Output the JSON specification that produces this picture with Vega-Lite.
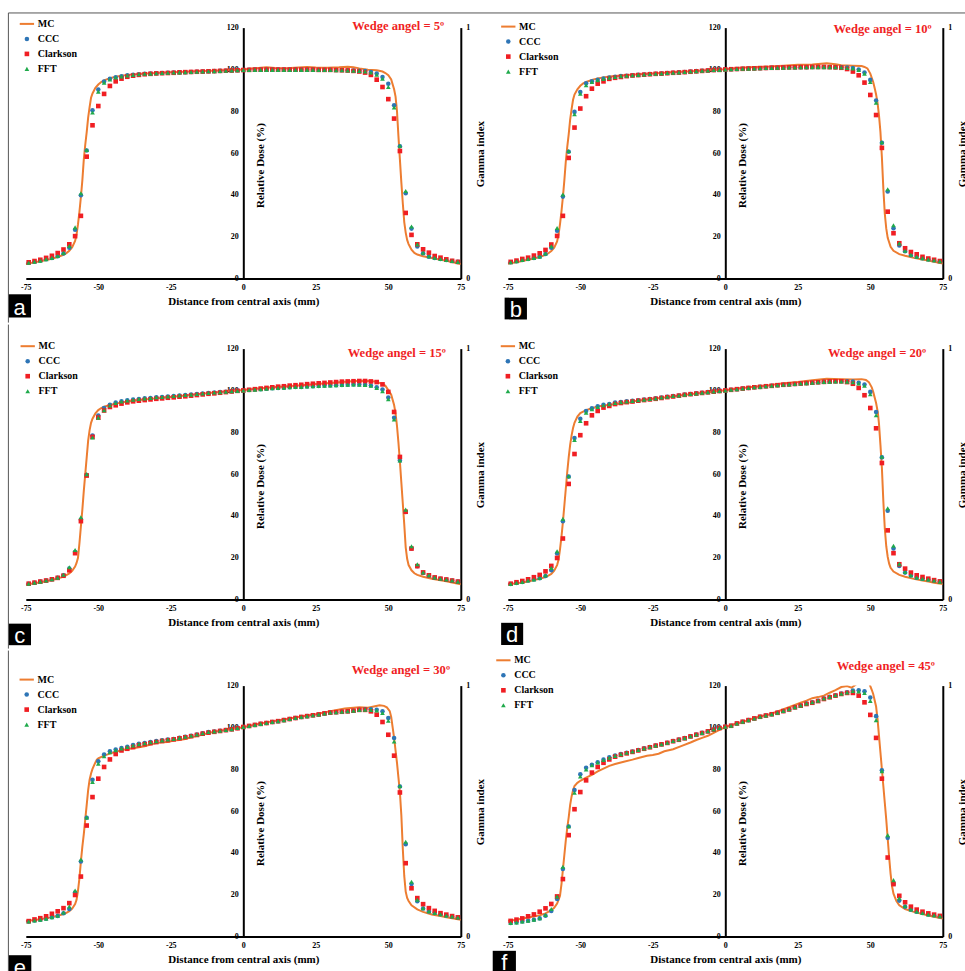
{
"$schema": "https://vega.github.io/schema/vega-lite/v6.json",
"background": "white",
"autosize": {"type": "pad"},
"padding": {"left": 7.8, "top": 11.6, "right": 0, "bottom": 0},
"datasets": {
"pts": [
{"p":"a","x":-74,"CCC":7.6,"Clarkson":7.8,"FFT":7.6},{"p":"a","x":-72,"CCC":8.1,"Clarkson":8.4,"FFT":8.1},{"p":"a","x":-70,"CCC":8.6,"Clarkson":9.0,"FFT":8.6},{"p":"a","x":-68,"CCC":9.3,"Clarkson":9.9,"FFT":9.3},{"p":"a","x":-66,"CCC":9.9,"Clarkson":10.9,"FFT":9.9},{"p":"a","x":-64,"CCC":10.7,"Clarkson":12.2,"FFT":10.8},{"p":"a","x":-62,"CCC":12.0,"Clarkson":13.9,"FFT":12.3},{"p":"a","x":-60,"CCC":14.8,"Clarkson":16.4,"FFT":15.6},{"p":"a","x":-58,"CCC":23.4,"Clarkson":20.3,"FFT":24.5},{"p":"a","x":-56,"CCC":39.8,"Clarkson":30.0,"FFT":40.8},{"p":"a","x":-54,"CCC":61.2,"Clarkson":58.3,"FFT":61.5},{"p":"a","x":-52,"CCC":80.5,"Clarkson":73.3,"FFT":79.4},{"p":"a","x":-50,"CCC":90.4,"Clarkson":82.5,"FFT":89.4},{"p":"a","x":-48,"CCC":94.2,"Clarkson":88.3,"FFT":93.7},{"p":"a","x":-46,"CCC":95.5,"Clarkson":92.1,"FFT":95.2},{"p":"a","x":-44,"CCC":96.3,"Clarkson":94.3,"FFT":96.1},{"p":"a","x":-42,"CCC":96.7,"Clarkson":95.6,"FFT":96.6},{"p":"a","x":-40,"CCC":97.2,"Clarkson":96.5,"FFT":97.1},{"p":"a","x":-38,"CCC":97.5,"Clarkson":97.0,"FFT":97.4},{"p":"a","x":-36,"CCC":97.7,"Clarkson":97.4,"FFT":97.7},{"p":"a","x":-34,"CCC":97.9,"Clarkson":97.7,"FFT":97.9},{"p":"a","x":-32,"CCC":98.0,"Clarkson":97.9,"FFT":98.0},{"p":"a","x":-30,"CCC":98.2,"Clarkson":98.1,"FFT":98.2},{"p":"a","x":-28,"CCC":98.3,"Clarkson":98.2,"FFT":98.3},{"p":"a","x":-26,"CCC":98.4,"Clarkson":98.3,"FFT":98.4},{"p":"a","x":-24,"CCC":98.5,"Clarkson":98.4,"FFT":98.5},{"p":"a","x":-22,"CCC":98.6,"Clarkson":98.6,"FFT":98.6},{"p":"a","x":-20,"CCC":98.7,"Clarkson":98.7,"FFT":98.7},{"p":"a","x":-18,"CCC":98.8,"Clarkson":98.8,"FFT":98.8},{"p":"a","x":-16,"CCC":98.9,"Clarkson":98.9,"FFT":98.9},{"p":"a","x":-14,"CCC":99.0,"Clarkson":99.0,"FFT":99.0},{"p":"a","x":-12,"CCC":99.1,"Clarkson":99.1,"FFT":99.1},{"p":"a","x":-10,"CCC":99.2,"Clarkson":99.2,"FFT":99.2},{"p":"a","x":-8,"CCC":99.3,"Clarkson":99.3,"FFT":99.3},{"p":"a","x":-6,"CCC":99.4,"Clarkson":99.4,"FFT":99.4},{"p":"a","x":-4,"CCC":99.5,"Clarkson":99.5,"FFT":99.5},{"p":"a","x":-2,"CCC":99.6,"Clarkson":99.6,"FFT":99.6},{"p":"a","x":0,"CCC":99.7,"Clarkson":99.7,"FFT":99.7},{"p":"a","x":2,"CCC":99.8,"Clarkson":99.8,"FFT":99.7},{"p":"a","x":4,"CCC":99.9,"Clarkson":99.9,"FFT":99.8},{"p":"a","x":6,"CCC":99.9,"Clarkson":99.9,"FFT":99.8},{"p":"a","x":8,"CCC":99.9,"Clarkson":99.9,"FFT":99.8},{"p":"a","x":10,"CCC":99.9,"Clarkson":99.9,"FFT":99.8},{"p":"a","x":12,"CCC":99.9,"Clarkson":99.9,"FFT":99.8},{"p":"a","x":14,"CCC":99.9,"Clarkson":99.9,"FFT":99.8},{"p":"a","x":16,"CCC":99.9,"Clarkson":99.9,"FFT":99.8},{"p":"a","x":18,"CCC":99.9,"Clarkson":99.9,"FFT":99.8},{"p":"a","x":20,"CCC":99.9,"Clarkson":99.9,"FFT":99.8},{"p":"a","x":22,"CCC":99.9,"Clarkson":99.9,"FFT":99.8},{"p":"a","x":24,"CCC":99.9,"Clarkson":99.9,"FFT":99.8},{"p":"a","x":26,"CCC":99.8,"Clarkson":99.8,"FFT":99.7},{"p":"a","x":28,"CCC":99.8,"Clarkson":99.8,"FFT":99.7},{"p":"a","x":30,"CCC":99.8,"Clarkson":99.8,"FFT":99.7},{"p":"a","x":32,"CCC":99.7,"Clarkson":99.7,"FFT":99.6},{"p":"a","x":34,"CCC":99.7,"Clarkson":99.6,"FFT":99.6},{"p":"a","x":36,"CCC":99.6,"Clarkson":99.5,"FFT":99.5},{"p":"a","x":38,"CCC":99.5,"Clarkson":99.3,"FFT":99.4},{"p":"a","x":40,"CCC":99.4,"Clarkson":99.0,"FFT":99.3},{"p":"a","x":42,"CCC":99.2,"Clarkson":98.5,"FFT":99.0},{"p":"a","x":44,"CCC":98.8,"Clarkson":97.4,"FFT":98.5},{"p":"a","x":46,"CCC":98.0,"Clarkson":95.1,"FFT":97.5},{"p":"a","x":48,"CCC":96.4,"Clarkson":91.6,"FFT":95.6},{"p":"a","x":50,"CCC":93.2,"Clarkson":85.8,"FFT":91.6},{"p":"a","x":52,"CCC":82.9,"Clarkson":76.5,"FFT":81.8},{"p":"a","x":54,"CCC":63.3,"Clarkson":61.0,"FFT":63.5},{"p":"a","x":56,"CCC":40.8,"Clarkson":31.4,"FFT":41.9},{"p":"a","x":58,"CCC":23.9,"Clarkson":20.9,"FFT":24.9},{"p":"a","x":60,"CCC":15.3,"Clarkson":16.4,"FFT":16.4},{"p":"a","x":62,"CCC":12.1,"Clarkson":14.0,"FFT":12.4},{"p":"a","x":64,"CCC":10.5,"Clarkson":12.4,"FFT":10.7},{"p":"a","x":66,"CCC":9.9,"Clarkson":10.8,"FFT":10.0},{"p":"a","x":68,"CCC":9.4,"Clarkson":10.0,"FFT":9.4},{"p":"a","x":70,"CCC":8.9,"Clarkson":9.2,"FFT":8.9},{"p":"a","x":72,"CCC":8.4,"Clarkson":8.5,"FFT":8.4},{"p":"a","x":74,"CCC":8.0,"Clarkson":8.0,"FFT":8.0},
{"p":"b","x":-74,"CCC":7.8,"Clarkson":8.0,"FFT":7.8},{"p":"b","x":-72,"CCC":8.3,"Clarkson":8.6,"FFT":8.3},{"p":"b","x":-70,"CCC":8.9,"Clarkson":9.4,"FFT":8.9},{"p":"b","x":-68,"CCC":9.4,"Clarkson":10.0,"FFT":9.4},{"p":"b","x":-66,"CCC":9.9,"Clarkson":11.0,"FFT":9.9},{"p":"b","x":-64,"CCC":10.5,"Clarkson":12.1,"FFT":10.6},{"p":"b","x":-62,"CCC":11.8,"Clarkson":13.7,"FFT":12.0},{"p":"b","x":-60,"CCC":14.8,"Clarkson":16.3,"FFT":15.5},{"p":"b","x":-58,"CCC":22.9,"Clarkson":20.4,"FFT":24.2},{"p":"b","x":-56,"CCC":39.2,"Clarkson":30.0,"FFT":40.2},{"p":"b","x":-54,"CCC":60.6,"Clarkson":57.7,"FFT":61.0},{"p":"b","x":-52,"CCC":79.7,"Clarkson":72.2,"FFT":78.6},{"p":"b","x":-50,"CCC":89.2,"Clarkson":81.3,"FFT":88.4},{"p":"b","x":-48,"CCC":93.4,"Clarkson":87.2,"FFT":92.4},{"p":"b","x":-46,"CCC":94.3,"Clarkson":90.8,"FFT":94.0},{"p":"b","x":-44,"CCC":95.0,"Clarkson":93.2,"FFT":94.8},{"p":"b","x":-42,"CCC":95.6,"Clarkson":94.3,"FFT":95.5},{"p":"b","x":-40,"CCC":96.1,"Clarkson":95.5,"FFT":96.0},{"p":"b","x":-38,"CCC":96.5,"Clarkson":96.0,"FFT":96.4},{"p":"b","x":-36,"CCC":96.8,"Clarkson":96.4,"FFT":96.8},{"p":"b","x":-34,"CCC":97.0,"Clarkson":96.8,"FFT":97.0},{"p":"b","x":-32,"CCC":97.2,"Clarkson":97.1,"FFT":97.2},{"p":"b","x":-30,"CCC":97.4,"Clarkson":97.3,"FFT":97.4},{"p":"b","x":-28,"CCC":97.6,"Clarkson":97.5,"FFT":97.6},{"p":"b","x":-26,"CCC":97.8,"Clarkson":97.7,"FFT":97.8},{"p":"b","x":-24,"CCC":97.9,"Clarkson":97.9,"FFT":97.9},{"p":"b","x":-22,"CCC":98.1,"Clarkson":98.0,"FFT":98.1},{"p":"b","x":-20,"CCC":98.3,"Clarkson":98.2,"FFT":98.3},{"p":"b","x":-18,"CCC":98.4,"Clarkson":98.4,"FFT":98.4},{"p":"b","x":-16,"CCC":98.6,"Clarkson":98.5,"FFT":98.6},{"p":"b","x":-14,"CCC":98.8,"Clarkson":98.7,"FFT":98.8},{"p":"b","x":-12,"CCC":99.0,"Clarkson":98.9,"FFT":99.0},{"p":"b","x":-10,"CCC":99.2,"Clarkson":99.1,"FFT":99.2},{"p":"b","x":-8,"CCC":99.4,"Clarkson":99.3,"FFT":99.4},{"p":"b","x":-6,"CCC":99.5,"Clarkson":99.5,"FFT":99.5},{"p":"b","x":-4,"CCC":99.7,"Clarkson":99.7,"FFT":99.7},{"p":"b","x":-2,"CCC":99.8,"Clarkson":99.8,"FFT":99.8},{"p":"b","x":0,"CCC":100.0,"Clarkson":100.0,"FFT":100.0},{"p":"b","x":2,"CCC":100.1,"Clarkson":100.1,"FFT":100.1},{"p":"b","x":4,"CCC":100.2,"Clarkson":100.2,"FFT":100.2},{"p":"b","x":6,"CCC":100.3,"Clarkson":100.3,"FFT":100.3},{"p":"b","x":8,"CCC":100.4,"Clarkson":100.4,"FFT":100.4},{"p":"b","x":10,"CCC":100.5,"Clarkson":100.5,"FFT":100.5},{"p":"b","x":12,"CCC":100.6,"Clarkson":100.6,"FFT":100.6},{"p":"b","x":14,"CCC":100.7,"Clarkson":100.7,"FFT":100.7},{"p":"b","x":16,"CCC":100.8,"Clarkson":100.8,"FFT":100.7},{"p":"b","x":18,"CCC":100.8,"Clarkson":100.8,"FFT":100.8},{"p":"b","x":20,"CCC":100.9,"Clarkson":100.9,"FFT":100.8},{"p":"b","x":22,"CCC":101.0,"Clarkson":101.0,"FFT":100.9},{"p":"b","x":24,"CCC":101.0,"Clarkson":101.0,"FFT":100.9},{"p":"b","x":26,"CCC":101.1,"Clarkson":101.1,"FFT":101.0},{"p":"b","x":28,"CCC":101.1,"Clarkson":101.1,"FFT":101.0},{"p":"b","x":30,"CCC":101.2,"Clarkson":101.2,"FFT":101.1},{"p":"b","x":32,"CCC":101.2,"Clarkson":101.2,"FFT":101.1},{"p":"b","x":34,"CCC":101.2,"Clarkson":101.2,"FFT":101.1},{"p":"b","x":36,"CCC":101.2,"Clarkson":101.1,"FFT":101.1},{"p":"b","x":38,"CCC":101.1,"Clarkson":101.0,"FFT":101.0},{"p":"b","x":40,"CCC":101.0,"Clarkson":100.8,"FFT":100.9},{"p":"b","x":42,"CCC":100.9,"Clarkson":100.2,"FFT":100.7},{"p":"b","x":44,"CCC":100.7,"Clarkson":99.0,"FFT":100.5},{"p":"b","x":46,"CCC":100.0,"Clarkson":97.2,"FFT":99.7},{"p":"b","x":48,"CCC":98.5,"Clarkson":93.7,"FFT":98.0},{"p":"b","x":50,"CCC":95.0,"Clarkson":87.8,"FFT":94.0},{"p":"b","x":52,"CCC":85.1,"Clarkson":78.2,"FFT":84.1},{"p":"b","x":54,"CCC":64.9,"Clarkson":62.5,"FFT":65.2},{"p":"b","x":56,"CCC":41.6,"Clarkson":32.0,"FFT":42.7},{"p":"b","x":58,"CCC":24.1,"Clarkson":21.7,"FFT":25.5},{"p":"b","x":60,"CCC":15.8,"Clarkson":16.9,"FFT":16.9},{"p":"b","x":62,"CCC":13.1,"Clarkson":14.5,"FFT":13.3},{"p":"b","x":64,"CCC":11.2,"Clarkson":12.7,"FFT":11.4},{"p":"b","x":66,"CCC":10.4,"Clarkson":11.6,"FFT":10.5},{"p":"b","x":68,"CCC":9.7,"Clarkson":10.4,"FFT":9.8},{"p":"b","x":70,"CCC":9.2,"Clarkson":9.6,"FFT":9.2},{"p":"b","x":72,"CCC":8.8,"Clarkson":9.0,"FFT":8.8},{"p":"b","x":74,"CCC":8.3,"Clarkson":8.4,"FFT":8.3},
{"p":"c","x":-74,"CCC":7.6,"Clarkson":7.6,"FFT":7.6},{"p":"c","x":-72,"CCC":8.1,"Clarkson":8.1,"FFT":8.1},{"p":"c","x":-70,"CCC":8.6,"Clarkson":8.6,"FFT":8.6},{"p":"c","x":-68,"CCC":9.1,"Clarkson":9.1,"FFT":9.1},{"p":"c","x":-66,"CCC":9.7,"Clarkson":9.7,"FFT":9.7},{"p":"c","x":-64,"CCC":10.4,"Clarkson":10.4,"FFT":10.5},{"p":"c","x":-62,"CCC":11.6,"Clarkson":11.4,"FFT":11.9},{"p":"c","x":-60,"CCC":14.8,"Clarkson":14.0,"FFT":15.5},{"p":"c","x":-58,"CCC":22.8,"Clarkson":22.2,"FFT":23.7},{"p":"c","x":-56,"CCC":38.2,"Clarkson":37.5,"FFT":39.4},{"p":"c","x":-54,"CCC":59.6,"Clarkson":59.3,"FFT":60.0},{"p":"c","x":-52,"CCC":78.4,"Clarkson":77.8,"FFT":77.5},{"p":"c","x":-50,"CCC":88.0,"Clarkson":87.0,"FFT":87.0},{"p":"c","x":-48,"CCC":91.6,"Clarkson":90.4,"FFT":90.5},{"p":"c","x":-46,"CCC":93.2,"Clarkson":92.1,"FFT":92.8},{"p":"c","x":-44,"CCC":94.2,"Clarkson":92.9,"FFT":94.0},{"p":"c","x":-42,"CCC":94.8,"Clarkson":93.7,"FFT":94.7},{"p":"c","x":-40,"CCC":95.3,"Clarkson":94.3,"FFT":95.2},{"p":"c","x":-38,"CCC":95.6,"Clarkson":94.8,"FFT":95.5},{"p":"c","x":-36,"CCC":95.9,"Clarkson":95.1,"FFT":95.9},{"p":"c","x":-34,"CCC":96.2,"Clarkson":95.4,"FFT":96.2},{"p":"c","x":-32,"CCC":96.4,"Clarkson":95.7,"FFT":96.4},{"p":"c","x":-30,"CCC":96.7,"Clarkson":96.0,"FFT":96.7},{"p":"c","x":-28,"CCC":96.9,"Clarkson":96.2,"FFT":96.9},{"p":"c","x":-26,"CCC":97.1,"Clarkson":96.5,"FFT":97.1},{"p":"c","x":-24,"CCC":97.3,"Clarkson":96.7,"FFT":97.3},{"p":"c","x":-22,"CCC":97.6,"Clarkson":97.0,"FFT":97.6},{"p":"c","x":-20,"CCC":97.8,"Clarkson":97.2,"FFT":97.8},{"p":"c","x":-18,"CCC":98.0,"Clarkson":97.5,"FFT":98.0},{"p":"c","x":-16,"CCC":98.3,"Clarkson":97.8,"FFT":98.3},{"p":"c","x":-14,"CCC":98.5,"Clarkson":98.1,"FFT":98.5},{"p":"c","x":-12,"CCC":98.8,"Clarkson":98.4,"FFT":98.8},{"p":"c","x":-10,"CCC":99.0,"Clarkson":98.6,"FFT":99.0},{"p":"c","x":-8,"CCC":99.2,"Clarkson":98.9,"FFT":99.2},{"p":"c","x":-6,"CCC":99.4,"Clarkson":99.2,"FFT":99.4},{"p":"c","x":-4,"CCC":99.6,"Clarkson":99.5,"FFT":99.6},{"p":"c","x":-2,"CCC":99.8,"Clarkson":99.8,"FFT":99.8},{"p":"c","x":0,"CCC":100.0,"Clarkson":100.0,"FFT":100.0},{"p":"c","x":2,"CCC":100.2,"Clarkson":100.3,"FFT":100.2},{"p":"c","x":4,"CCC":100.4,"Clarkson":100.6,"FFT":100.4},{"p":"c","x":6,"CCC":100.6,"Clarkson":100.9,"FFT":100.6},{"p":"c","x":8,"CCC":100.8,"Clarkson":101.2,"FFT":100.8},{"p":"c","x":10,"CCC":101.0,"Clarkson":101.5,"FFT":101.0},{"p":"c","x":12,"CCC":101.2,"Clarkson":101.8,"FFT":101.2},{"p":"c","x":14,"CCC":101.3,"Clarkson":102.0,"FFT":101.3},{"p":"c","x":16,"CCC":101.5,"Clarkson":102.3,"FFT":101.5},{"p":"c","x":18,"CCC":101.6,"Clarkson":102.5,"FFT":101.6},{"p":"c","x":20,"CCC":101.7,"Clarkson":102.7,"FFT":101.7},{"p":"c","x":22,"CCC":101.9,"Clarkson":103.0,"FFT":101.9},{"p":"c","x":24,"CCC":102.0,"Clarkson":103.2,"FFT":102.0},{"p":"c","x":26,"CCC":102.1,"Clarkson":103.4,"FFT":102.1},{"p":"c","x":28,"CCC":102.3,"Clarkson":103.6,"FFT":102.3},{"p":"c","x":30,"CCC":102.4,"Clarkson":103.8,"FFT":102.4},{"p":"c","x":32,"CCC":102.5,"Clarkson":104.0,"FFT":102.5},{"p":"c","x":34,"CCC":102.6,"Clarkson":104.2,"FFT":102.6},{"p":"c","x":36,"CCC":102.7,"Clarkson":104.3,"FFT":102.7},{"p":"c","x":38,"CCC":102.8,"Clarkson":104.4,"FFT":102.8},{"p":"c","x":40,"CCC":102.8,"Clarkson":104.5,"FFT":102.7},{"p":"c","x":42,"CCC":102.7,"Clarkson":104.5,"FFT":102.6},{"p":"c","x":44,"CCC":102.4,"Clarkson":104.3,"FFT":102.2},{"p":"c","x":46,"CCC":101.5,"Clarkson":104.0,"FFT":101.2},{"p":"c","x":48,"CCC":100.4,"Clarkson":102.9,"FFT":99.6},{"p":"c","x":50,"CCC":96.6,"Clarkson":99.3,"FFT":95.8},{"p":"c","x":52,"CCC":86.9,"Clarkson":89.7,"FFT":86.1},{"p":"c","x":54,"CCC":66.5,"Clarkson":68.2,"FFT":66.5},{"p":"c","x":56,"CCC":41.9,"Clarkson":42.0,"FFT":43.0},{"p":"c","x":58,"CCC":24.4,"Clarkson":24.4,"FFT":25.5},{"p":"c","x":60,"CCC":15.9,"Clarkson":16.0,"FFT":16.9},{"p":"c","x":62,"CCC":12.7,"Clarkson":13.0,"FFT":13.0},{"p":"c","x":64,"CCC":11.5,"Clarkson":11.6,"FFT":11.6},{"p":"c","x":66,"CCC":10.5,"Clarkson":10.6,"FFT":10.6},{"p":"c","x":68,"CCC":10.0,"Clarkson":10.0,"FFT":10.0},{"p":"c","x":70,"CCC":9.6,"Clarkson":9.6,"FFT":9.6},{"p":"c","x":72,"CCC":9.1,"Clarkson":9.1,"FFT":9.1},{"p":"c","x":74,"CCC":8.6,"Clarkson":8.6,"FFT":8.6},
{"p":"d","x":-74,"CCC":7.5,"Clarkson":7.6,"FFT":7.5},{"p":"d","x":-72,"CCC":8.0,"Clarkson":8.3,"FFT":8.0},{"p":"d","x":-70,"CCC":8.4,"Clarkson":8.9,"FFT":8.4},{"p":"d","x":-68,"CCC":9.1,"Clarkson":9.7,"FFT":9.1},{"p":"d","x":-66,"CCC":9.6,"Clarkson":10.7,"FFT":9.6},{"p":"d","x":-64,"CCC":10.2,"Clarkson":11.8,"FFT":10.3},{"p":"d","x":-62,"CCC":11.3,"Clarkson":13.5,"FFT":11.6},{"p":"d","x":-60,"CCC":14.0,"Clarkson":16.1,"FFT":15.1},{"p":"d","x":-58,"CCC":22.0,"Clarkson":19.9,"FFT":23.1},{"p":"d","x":-56,"CCC":37.5,"Clarkson":29.2,"FFT":38.6},{"p":"d","x":-54,"CCC":58.8,"Clarkson":55.3,"FFT":59.0},{"p":"d","x":-52,"CCC":77.3,"Clarkson":69.6,"FFT":76.3},{"p":"d","x":-50,"CCC":86.5,"Clarkson":78.6,"FFT":85.4},{"p":"d","x":-48,"CCC":90.2,"Clarkson":84.3,"FFT":89.4},{"p":"d","x":-46,"CCC":91.5,"Clarkson":88.1,"FFT":91.0},{"p":"d","x":-44,"CCC":92.4,"Clarkson":90.2,"FFT":92.1},{"p":"d","x":-42,"CCC":93.1,"Clarkson":91.8,"FFT":92.9},{"p":"d","x":-40,"CCC":93.5,"Clarkson":92.6,"FFT":93.4},{"p":"d","x":-38,"CCC":94.2,"Clarkson":93.5,"FFT":94.0},{"p":"d","x":-36,"CCC":94.5,"Clarkson":94.0,"FFT":94.4},{"p":"d","x":-34,"CCC":94.8,"Clarkson":94.4,"FFT":94.7},{"p":"d","x":-32,"CCC":95.0,"Clarkson":94.7,"FFT":95.0},{"p":"d","x":-30,"CCC":95.3,"Clarkson":95.1,"FFT":95.3},{"p":"d","x":-28,"CCC":95.6,"Clarkson":95.4,"FFT":95.6},{"p":"d","x":-26,"CCC":95.9,"Clarkson":95.7,"FFT":95.9},{"p":"d","x":-24,"CCC":96.2,"Clarkson":96.0,"FFT":96.2},{"p":"d","x":-22,"CCC":96.6,"Clarkson":96.4,"FFT":96.6},{"p":"d","x":-20,"CCC":97.0,"Clarkson":96.8,"FFT":97.0},{"p":"d","x":-18,"CCC":97.3,"Clarkson":97.1,"FFT":97.3},{"p":"d","x":-16,"CCC":97.6,"Clarkson":97.5,"FFT":97.6},{"p":"d","x":-14,"CCC":98.0,"Clarkson":97.9,"FFT":98.0},{"p":"d","x":-12,"CCC":98.3,"Clarkson":98.2,"FFT":98.3},{"p":"d","x":-10,"CCC":98.6,"Clarkson":98.5,"FFT":98.6},{"p":"d","x":-8,"CCC":98.9,"Clarkson":98.8,"FFT":98.9},{"p":"d","x":-6,"CCC":99.2,"Clarkson":99.1,"FFT":99.2},{"p":"d","x":-4,"CCC":99.5,"Clarkson":99.4,"FFT":99.5},{"p":"d","x":-2,"CCC":99.7,"Clarkson":99.7,"FFT":99.7},{"p":"d","x":0,"CCC":100.0,"Clarkson":100.0,"FFT":100.0},{"p":"d","x":2,"CCC":100.3,"Clarkson":100.3,"FFT":100.3},{"p":"d","x":4,"CCC":100.6,"Clarkson":100.6,"FFT":100.6},{"p":"d","x":6,"CCC":100.9,"Clarkson":100.9,"FFT":100.9},{"p":"d","x":8,"CCC":101.2,"Clarkson":101.2,"FFT":101.2},{"p":"d","x":10,"CCC":101.5,"Clarkson":101.5,"FFT":101.5},{"p":"d","x":12,"CCC":101.7,"Clarkson":101.7,"FFT":101.7},{"p":"d","x":14,"CCC":102.0,"Clarkson":102.0,"FFT":102.0},{"p":"d","x":16,"CCC":102.2,"Clarkson":102.2,"FFT":102.2},{"p":"d","x":18,"CCC":102.5,"Clarkson":102.5,"FFT":102.5},{"p":"d","x":20,"CCC":102.7,"Clarkson":102.7,"FFT":102.7},{"p":"d","x":22,"CCC":102.9,"Clarkson":102.9,"FFT":102.9},{"p":"d","x":24,"CCC":103.1,"Clarkson":103.1,"FFT":103.1},{"p":"d","x":26,"CCC":103.3,"Clarkson":103.3,"FFT":103.3},{"p":"d","x":28,"CCC":103.5,"Clarkson":103.5,"FFT":103.5},{"p":"d","x":30,"CCC":103.7,"Clarkson":103.7,"FFT":103.7},{"p":"d","x":32,"CCC":103.9,"Clarkson":103.9,"FFT":103.9},{"p":"d","x":34,"CCC":104.1,"Clarkson":104.1,"FFT":104.1},{"p":"d","x":36,"CCC":104.3,"Clarkson":104.3,"FFT":104.2},{"p":"d","x":38,"CCC":104.4,"Clarkson":104.4,"FFT":104.3},{"p":"d","x":40,"CCC":104.4,"Clarkson":104.4,"FFT":104.3},{"p":"d","x":42,"CCC":104.4,"Clarkson":104.0,"FFT":104.2},{"p":"d","x":44,"CCC":104.2,"Clarkson":103.2,"FFT":103.9},{"p":"d","x":46,"CCC":103.7,"Clarkson":101.2,"FFT":103.3},{"p":"d","x":48,"CCC":102.8,"Clarkson":97.7,"FFT":102.2},{"p":"d","x":50,"CCC":99.3,"Clarkson":91.6,"FFT":98.2},{"p":"d","x":52,"CCC":89.7,"Clarkson":81.9,"FFT":88.1},{"p":"d","x":54,"CCC":68.0,"Clarkson":65.3,"FFT":68.3},{"p":"d","x":56,"CCC":42.5,"Clarkson":33.1,"FFT":43.7},{"p":"d","x":58,"CCC":24.4,"Clarkson":22.2,"FFT":25.7},{"p":"d","x":60,"CCC":16.1,"Clarkson":16.9,"FFT":17.1},{"p":"d","x":62,"CCC":12.9,"Clarkson":14.8,"FFT":13.2},{"p":"d","x":64,"CCC":11.5,"Clarkson":12.9,"FFT":11.6},{"p":"d","x":66,"CCC":10.5,"Clarkson":11.6,"FFT":10.6},{"p":"d","x":68,"CCC":10.0,"Clarkson":10.8,"FFT":10.0},{"p":"d","x":70,"CCC":9.6,"Clarkson":10.0,"FFT":9.6},{"p":"d","x":72,"CCC":9.1,"Clarkson":9.3,"FFT":9.1},{"p":"d","x":74,"CCC":8.6,"Clarkson":8.7,"FFT":8.6},
{"p":"e","x":-74,"CCC":7.2,"Clarkson":7.4,"FFT":7.2},{"p":"e","x":-72,"CCC":7.7,"Clarkson":8.2,"FFT":7.7},{"p":"e","x":-70,"CCC":8.1,"Clarkson":8.8,"FFT":8.1},{"p":"e","x":-68,"CCC":8.6,"Clarkson":9.7,"FFT":8.6},{"p":"e","x":-66,"CCC":9.3,"Clarkson":10.9,"FFT":9.3},{"p":"e","x":-64,"CCC":9.9,"Clarkson":12.1,"FFT":10.0},{"p":"e","x":-62,"CCC":11.2,"Clarkson":13.6,"FFT":11.5},{"p":"e","x":-60,"CCC":13.2,"Clarkson":16.0,"FFT":14.4},{"p":"e","x":-58,"CCC":21.1,"Clarkson":19.9,"FFT":22.0},{"p":"e","x":-56,"CCC":35.9,"Clarkson":28.7,"FFT":36.9},{"p":"e","x":-54,"CCC":56.8,"Clarkson":53.1,"FFT":57.0},{"p":"e","x":-52,"CCC":75.0,"Clarkson":66.7,"FFT":73.9},{"p":"e","x":-50,"CCC":83.8,"Clarkson":75.5,"FFT":82.7},{"p":"e","x":-48,"CCC":87.1,"Clarkson":81.1,"FFT":86.2},{"p":"e","x":-46,"CCC":88.6,"Clarkson":84.7,"FFT":88.1},{"p":"e","x":-44,"CCC":89.4,"Clarkson":87.3,"FFT":89.1},{"p":"e","x":-42,"CCC":90.2,"Clarkson":89.0,"FFT":90.0},{"p":"e","x":-40,"CCC":90.8,"Clarkson":89.8,"FFT":90.6},{"p":"e","x":-38,"CCC":91.6,"Clarkson":90.6,"FFT":91.4},{"p":"e","x":-36,"CCC":92.2,"Clarkson":91.5,"FFT":92.0},{"p":"e","x":-34,"CCC":92.5,"Clarkson":92.0,"FFT":92.4},{"p":"e","x":-32,"CCC":93.0,"Clarkson":92.5,"FFT":92.9},{"p":"e","x":-30,"CCC":93.5,"Clarkson":93.0,"FFT":93.4},{"p":"e","x":-28,"CCC":93.9,"Clarkson":93.5,"FFT":93.8},{"p":"e","x":-26,"CCC":94.2,"Clarkson":93.9,"FFT":94.2},{"p":"e","x":-24,"CCC":94.5,"Clarkson":94.3,"FFT":94.5},{"p":"e","x":-22,"CCC":95.0,"Clarkson":94.8,"FFT":95.0},{"p":"e","x":-20,"CCC":95.5,"Clarkson":95.3,"FFT":95.5},{"p":"e","x":-18,"CCC":96.0,"Clarkson":95.8,"FFT":96.0},{"p":"e","x":-16,"CCC":96.6,"Clarkson":96.4,"FFT":96.6},{"p":"e","x":-14,"CCC":97.2,"Clarkson":97.0,"FFT":97.2},{"p":"e","x":-12,"CCC":97.8,"Clarkson":97.5,"FFT":97.8},{"p":"e","x":-10,"CCC":98.1,"Clarkson":97.9,"FFT":98.1},{"p":"e","x":-8,"CCC":98.4,"Clarkson":98.3,"FFT":98.4},{"p":"e","x":-6,"CCC":98.8,"Clarkson":98.7,"FFT":98.8},{"p":"e","x":-4,"CCC":99.2,"Clarkson":99.1,"FFT":99.2},{"p":"e","x":-2,"CCC":99.7,"Clarkson":99.6,"FFT":99.7},{"p":"e","x":0,"CCC":100.2,"Clarkson":100.2,"FFT":100.2},{"p":"e","x":2,"CCC":100.7,"Clarkson":100.7,"FFT":100.7},{"p":"e","x":4,"CCC":101.2,"Clarkson":101.2,"FFT":101.2},{"p":"e","x":6,"CCC":101.7,"Clarkson":101.7,"FFT":101.7},{"p":"e","x":8,"CCC":102.1,"Clarkson":102.1,"FFT":102.1},{"p":"e","x":10,"CCC":102.6,"Clarkson":102.6,"FFT":102.6},{"p":"e","x":12,"CCC":103.0,"Clarkson":103.0,"FFT":103.0},{"p":"e","x":14,"CCC":103.5,"Clarkson":103.5,"FFT":103.5},{"p":"e","x":16,"CCC":104.0,"Clarkson":104.0,"FFT":104.0},{"p":"e","x":18,"CCC":104.5,"Clarkson":104.5,"FFT":104.5},{"p":"e","x":20,"CCC":105.0,"Clarkson":105.0,"FFT":105.0},{"p":"e","x":22,"CCC":105.4,"Clarkson":105.4,"FFT":105.4},{"p":"e","x":24,"CCC":105.8,"Clarkson":105.8,"FFT":105.8},{"p":"e","x":26,"CCC":106.2,"Clarkson":106.2,"FFT":106.2},{"p":"e","x":28,"CCC":106.7,"Clarkson":106.7,"FFT":106.7},{"p":"e","x":30,"CCC":107.1,"Clarkson":107.1,"FFT":107.1},{"p":"e","x":32,"CCC":107.3,"Clarkson":107.3,"FFT":107.3},{"p":"e","x":34,"CCC":107.5,"Clarkson":107.5,"FFT":107.5},{"p":"e","x":36,"CCC":107.7,"Clarkson":107.7,"FFT":107.7},{"p":"e","x":38,"CCC":108.0,"Clarkson":108.0,"FFT":108.0},{"p":"e","x":40,"CCC":108.5,"Clarkson":108.4,"FFT":108.4},{"p":"e","x":42,"CCC":108.7,"Clarkson":108.4,"FFT":108.5},{"p":"e","x":44,"CCC":108.7,"Clarkson":107.7,"FFT":108.4},{"p":"e","x":46,"CCC":108.5,"Clarkson":106.1,"FFT":108.1},{"p":"e","x":48,"CCC":107.7,"Clarkson":102.6,"FFT":106.9},{"p":"e","x":50,"CCC":104.5,"Clarkson":96.5,"FFT":103.2},{"p":"e","x":52,"CCC":94.9,"Clarkson":86.5,"FFT":93.3},{"p":"e","x":54,"CCC":71.8,"Clarkson":68.9,"FFT":72.0},{"p":"e","x":56,"CCC":44.2,"Clarkson":35.1,"FFT":45.3},{"p":"e","x":58,"CCC":25.1,"Clarkson":23.1,"FFT":26.2},{"p":"e","x":60,"CCC":16.9,"Clarkson":18.4,"FFT":17.6},{"p":"e","x":62,"CCC":13.4,"Clarkson":15.5,"FFT":13.6},{"p":"e","x":64,"CCC":12.0,"Clarkson":13.6,"FFT":12.1},{"p":"e","x":66,"CCC":11.3,"Clarkson":12.3,"FFT":11.3},{"p":"e","x":68,"CCC":10.7,"Clarkson":11.2,"FFT":10.7},{"p":"e","x":70,"CCC":10.1,"Clarkson":10.5,"FFT":10.1},{"p":"e","x":72,"CCC":9.6,"Clarkson":9.8,"FFT":9.6},{"p":"e","x":74,"CCC":9.1,"Clarkson":9.2,"FFT":9.1},
{"p":"f","x":-74,"CCC":6.5,"Clarkson":7.5,"FFT":6.5},{"p":"f","x":-72,"CCC":6.8,"Clarkson":8.1,"FFT":6.8},{"p":"f","x":-70,"CCC":7.2,"Clarkson":8.7,"FFT":7.2},{"p":"f","x":-68,"CCC":7.6,"Clarkson":9.7,"FFT":7.6},{"p":"f","x":-66,"CCC":8.1,"Clarkson":10.6,"FFT":8.1},{"p":"f","x":-64,"CCC":8.7,"Clarkson":11.9,"FFT":8.8},{"p":"f","x":-62,"CCC":10.0,"Clarkson":13.5,"FFT":10.3},{"p":"f","x":-60,"CCC":12.2,"Clarkson":15.6,"FFT":13.2},{"p":"f","x":-58,"CCC":18.0,"Clarkson":19.2,"FFT":19.2},{"p":"f","x":-56,"CCC":32.3,"Clarkson":27.5,"FFT":33.4},{"p":"f","x":-54,"CCC":52.6,"Clarkson":48.5,"FFT":52.8},{"p":"f","x":-52,"CCC":70.1,"Clarkson":60.9,"FFT":68.8},{"p":"f","x":-50,"CCC":77.6,"Clarkson":69.1,"FFT":76.5},{"p":"f","x":-48,"CCC":80.7,"Clarkson":74.7,"FFT":79.9},{"p":"f","x":-46,"CCC":82.2,"Clarkson":78.4,"FFT":81.9},{"p":"f","x":-44,"CCC":83.4,"Clarkson":81.1,"FFT":83.2},{"p":"f","x":-42,"CCC":84.6,"Clarkson":83.1,"FFT":84.4},{"p":"f","x":-40,"CCC":85.7,"Clarkson":84.7,"FFT":85.5},{"p":"f","x":-38,"CCC":86.6,"Clarkson":86.0,"FFT":86.4},{"p":"f","x":-36,"CCC":87.3,"Clarkson":86.9,"FFT":87.2},{"p":"f","x":-34,"CCC":87.9,"Clarkson":87.6,"FFT":87.9},{"p":"f","x":-32,"CCC":88.5,"Clarkson":88.3,"FFT":88.5},{"p":"f","x":-30,"CCC":89.2,"Clarkson":89.0,"FFT":89.2},{"p":"f","x":-28,"CCC":90.0,"Clarkson":89.8,"FFT":90.0},{"p":"f","x":-26,"CCC":90.6,"Clarkson":90.5,"FFT":90.6},{"p":"f","x":-24,"CCC":91.4,"Clarkson":91.3,"FFT":91.4},{"p":"f","x":-22,"CCC":92.0,"Clarkson":91.9,"FFT":92.0},{"p":"f","x":-20,"CCC":92.7,"Clarkson":92.6,"FFT":92.7},{"p":"f","x":-18,"CCC":93.5,"Clarkson":93.4,"FFT":93.5},{"p":"f","x":-16,"CCC":94.2,"Clarkson":94.1,"FFT":94.2},{"p":"f","x":-14,"CCC":94.9,"Clarkson":94.8,"FFT":94.9},{"p":"f","x":-12,"CCC":95.8,"Clarkson":95.7,"FFT":95.8},{"p":"f","x":-10,"CCC":96.6,"Clarkson":96.5,"FFT":96.6},{"p":"f","x":-8,"CCC":97.4,"Clarkson":97.3,"FFT":97.4},{"p":"f","x":-6,"CCC":98.2,"Clarkson":98.1,"FFT":98.2},{"p":"f","x":-4,"CCC":99.0,"Clarkson":98.9,"FFT":99.0},{"p":"f","x":-2,"CCC":99.8,"Clarkson":99.7,"FFT":99.8},{"p":"f","x":0,"CCC":100.3,"Clarkson":100.3,"FFT":100.3},{"p":"f","x":2,"CCC":100.8,"Clarkson":100.8,"FFT":100.8},{"p":"f","x":4,"CCC":101.9,"Clarkson":101.9,"FFT":101.9},{"p":"f","x":6,"CCC":102.7,"Clarkson":102.7,"FFT":102.7},{"p":"f","x":8,"CCC":103.5,"Clarkson":103.5,"FFT":103.5},{"p":"f","x":10,"CCC":104.3,"Clarkson":104.3,"FFT":104.3},{"p":"f","x":12,"CCC":105.1,"Clarkson":105.1,"FFT":105.1},{"p":"f","x":14,"CCC":105.7,"Clarkson":105.7,"FFT":105.7},{"p":"f","x":16,"CCC":106.3,"Clarkson":106.3,"FFT":106.3},{"p":"f","x":18,"CCC":107.0,"Clarkson":107.0,"FFT":107.0},{"p":"f","x":20,"CCC":107.9,"Clarkson":107.8,"FFT":107.9},{"p":"f","x":22,"CCC":108.7,"Clarkson":108.6,"FFT":108.7},{"p":"f","x":24,"CCC":109.7,"Clarkson":109.6,"FFT":109.7},{"p":"f","x":26,"CCC":110.5,"Clarkson":110.4,"FFT":110.5},{"p":"f","x":28,"CCC":111.4,"Clarkson":111.2,"FFT":111.4},{"p":"f","x":30,"CCC":112.0,"Clarkson":111.8,"FFT":112.0},{"p":"f","x":32,"CCC":112.8,"Clarkson":112.6,"FFT":112.8},{"p":"f","x":34,"CCC":113.8,"Clarkson":113.6,"FFT":113.8},{"p":"f","x":36,"CCC":114.6,"Clarkson":114.4,"FFT":114.6},{"p":"f","x":38,"CCC":115.4,"Clarkson":115.2,"FFT":115.4},{"p":"f","x":40,"CCC":116.2,"Clarkson":116.0,"FFT":116.1},{"p":"f","x":42,"CCC":116.8,"Clarkson":116.5,"FFT":116.7},{"p":"f","x":44,"CCC":117.6,"Clarkson":116.5,"FFT":117.4},{"p":"f","x":46,"CCC":117.8,"Clarkson":115.2,"FFT":117.2},{"p":"f","x":48,"CCC":117.3,"Clarkson":112.0,"FFT":116.5},{"p":"f","x":50,"CCC":114.3,"Clarkson":106.0,"FFT":112.7},{"p":"f","x":52,"CCC":105.4,"Clarkson":95.0,"FFT":103.5},{"p":"f","x":54,"CCC":79.5,"Clarkson":75.5,"FFT":79.1},{"p":"f","x":56,"CCC":47.2,"Clarkson":37.8,"FFT":48.5},{"p":"f","x":58,"CCC":25.1,"Clarkson":25.1,"FFT":27.0},{"p":"f","x":60,"CCC":17.2,"Clarkson":19.5,"FFT":18.3},{"p":"f","x":62,"CCC":14.3,"Clarkson":16.4,"FFT":14.6},{"p":"f","x":64,"CCC":12.9,"Clarkson":14.3,"FFT":13.0},{"p":"f","x":66,"CCC":11.9,"Clarkson":12.9,"FFT":12.0},{"p":"f","x":68,"CCC":11.3,"Clarkson":11.9,"FFT":11.3},{"p":"f","x":70,"CCC":10.6,"Clarkson":11.1,"FFT":10.6},{"p":"f","x":72,"CCC":10.2,"Clarkson":10.5,"FFT":10.2},{"p":"f","x":74,"CCC":9.7,"Clarkson":9.9,"FFT":9.7}
],
"mc": [
{"p":"a","x":-75,"MC":7.0},{"p":"a","x":-72,"MC":7.8},{"p":"a","x":-70,"MC":8.3},{"p":"a","x":-68,"MC":8.9},{"p":"a","x":-66,"MC":9.5},{"p":"a","x":-64,"MC":10.3},{"p":"a","x":-62,"MC":11.4},{"p":"a","x":-61,"MC":12.2},{"p":"a","x":-60,"MC":13.3},{"p":"a","x":-59,"MC":15.0},{"p":"a","x":-58,"MC":18.0},{"p":"a","x":-57.5,"MC":21},{"p":"a","x":-57,"MC":26},{"p":"a","x":-56.5,"MC":32},{"p":"a","x":-56,"MC":39},{"p":"a","x":-55.5,"MC":47},{"p":"a","x":-55,"MC":57},{"p":"a","x":-54.5,"MC":64},{"p":"a","x":-54,"MC":70},{"p":"a","x":-53.5,"MC":77},{"p":"a","x":-53,"MC":82},{"p":"a","x":-52.5,"MC":86.5},{"p":"a","x":-52,"MC":88.5},{"p":"a","x":-51,"MC":91.2},{"p":"a","x":-50,"MC":92.8},{"p":"a","x":-49,"MC":94.0},{"p":"a","x":-48,"MC":94.8},{"p":"a","x":-46,"MC":95.8},{"p":"a","x":-44,"MC":96.5},{"p":"a","x":-42,"MC":97.0},{"p":"a","x":-40,"MC":97.4},{"p":"a","x":-35,"MC":97.9},{"p":"a","x":-30,"MC":98.3},{"p":"a","x":-25,"MC":98.6},{"p":"a","x":-20,"MC":98.9},{"p":"a","x":-15,"MC":99.2},{"p":"a","x":-10,"MC":99.4},{"p":"a","x":-5,"MC":99.7},{"p":"a","x":0,"MC":100.0},{"p":"a","x":3,"MC":100.4},{"p":"a","x":6,"MC":100.8},{"p":"a","x":8,"MC":101.0},{"p":"a","x":11,"MC":100.7},{"p":"a","x":15,"MC":100.6},{"p":"a","x":19,"MC":100.9},{"p":"a","x":22,"MC":101.2},{"p":"a","x":25,"MC":100.9},{"p":"a","x":29,"MC":100.8},{"p":"a","x":33,"MC":101.0},{"p":"a","x":36,"MC":101.3},{"p":"a","x":38,"MC":101.0},{"p":"a","x":40,"MC":100.5},{"p":"a","x":43,"MC":99.9},{"p":"a","x":46,"MC":99.6},{"p":"a","x":48,"MC":99.0},{"p":"a","x":49,"MC":98.3},{"p":"a","x":50,"MC":97.2},{"p":"a","x":51,"MC":95.2},{"p":"a","x":52,"MC":90.5},{"p":"a","x":52.5,"MC":87},{"p":"a","x":53,"MC":80},{"p":"a","x":53.5,"MC":68},{"p":"a","x":54,"MC":57},{"p":"a","x":54.5,"MC":46},{"p":"a","x":55,"MC":36},{"p":"a","x":55.5,"MC":27},{"p":"a","x":56,"MC":22},{"p":"a","x":56.5,"MC":18.5},{"p":"a","x":57,"MC":16.5},{"p":"a","x":58,"MC":13.8},{"p":"a","x":59,"MC":12.3},{"p":"a","x":60,"MC":11.5},{"p":"a","x":62,"MC":10.7},{"p":"a","x":65,"MC":9.8},{"p":"a","x":68,"MC":9.0},{"p":"a","x":70,"MC":8.5},{"p":"a","x":72,"MC":7.9},{"p":"a","x":75,"MC":7.0},
{"p":"b","x":-75,"MC":7.2},{"p":"b","x":-72,"MC":7.8},{"p":"b","x":-70,"MC":8.4},{"p":"b","x":-68,"MC":9.0},{"p":"b","x":-66,"MC":9.6},{"p":"b","x":-64,"MC":10.3},{"p":"b","x":-62,"MC":11.3},{"p":"b","x":-61,"MC":12.1},{"p":"b","x":-60,"MC":13.2},{"p":"b","x":-59,"MC":14.8},{"p":"b","x":-58,"MC":17.8},{"p":"b","x":-57.5,"MC":21},{"p":"b","x":-57,"MC":26},{"p":"b","x":-56.5,"MC":32},{"p":"b","x":-56,"MC":39},{"p":"b","x":-55.5,"MC":47},{"p":"b","x":-55,"MC":56},{"p":"b","x":-54.5,"MC":63},{"p":"b","x":-54,"MC":69},{"p":"b","x":-53.5,"MC":76},{"p":"b","x":-53,"MC":81},{"p":"b","x":-52.5,"MC":85.5},{"p":"b","x":-52,"MC":88},{"p":"b","x":-51,"MC":90.5},{"p":"b","x":-50,"MC":92.2},{"p":"b","x":-49,"MC":93.3},{"p":"b","x":-48,"MC":94.0},{"p":"b","x":-46,"MC":95.0},{"p":"b","x":-44,"MC":95.7},{"p":"b","x":-42,"MC":96.2},{"p":"b","x":-40,"MC":96.6},{"p":"b","x":-35,"MC":97.2},{"p":"b","x":-30,"MC":97.7},{"p":"b","x":-25,"MC":98.1},{"p":"b","x":-20,"MC":98.5},{"p":"b","x":-15,"MC":98.9},{"p":"b","x":-10,"MC":99.3},{"p":"b","x":-5,"MC":99.7},{"p":"b","x":0,"MC":100.1},{"p":"b","x":5,"MC":100.8},{"p":"b","x":10,"MC":101.2},{"p":"b","x":15,"MC":101.4},{"p":"b","x":20,"MC":101.8},{"p":"b","x":25,"MC":102.2},{"p":"b","x":30,"MC":102.4},{"p":"b","x":35,"MC":102.9},{"p":"b","x":38,"MC":102.5},{"p":"b","x":40,"MC":102.0},{"p":"b","x":44,"MC":101.8},{"p":"b","x":47,"MC":101.6},{"p":"b","x":48,"MC":101.2},{"p":"b","x":49,"MC":100.5},{"p":"b","x":50,"MC":98.0},{"p":"b","x":51,"MC":94.0},{"p":"b","x":51.6,"MC":90.5},{"p":"b","x":52,"MC":88},{"p":"b","x":52.5,"MC":84},{"p":"b","x":53,"MC":78},{"p":"b","x":53.5,"MC":70},{"p":"b","x":54,"MC":58},{"p":"b","x":54.5,"MC":43},{"p":"b","x":55,"MC":31},{"p":"b","x":55.5,"MC":24},{"p":"b","x":56,"MC":19.5},{"p":"b","x":57,"MC":15.2},{"p":"b","x":58,"MC":13.3},{"p":"b","x":60,"MC":11.7},{"p":"b","x":62,"MC":10.9},{"p":"b","x":65,"MC":9.9},{"p":"b","x":68,"MC":9.1},{"p":"b","x":70,"MC":8.6},{"p":"b","x":72,"MC":8.0},{"p":"b","x":75,"MC":7.2},
{"p":"c","x":-75,"MC":7.2},{"p":"c","x":-72,"MC":7.8},{"p":"c","x":-70,"MC":8.3},{"p":"c","x":-68,"MC":8.8},{"p":"c","x":-66,"MC":9.4},{"p":"c","x":-64,"MC":10.1},{"p":"c","x":-62,"MC":11.0},{"p":"c","x":-61,"MC":11.7},{"p":"c","x":-60,"MC":12.5},{"p":"c","x":-59,"MC":13.8},{"p":"c","x":-58,"MC":15.8},{"p":"c","x":-57.5,"MC":17.5},{"p":"c","x":-57,"MC":20},{"p":"c","x":-56.5,"MC":27},{"p":"c","x":-56,"MC":35},{"p":"c","x":-55.5,"MC":43},{"p":"c","x":-55,"MC":52},{"p":"c","x":-54.5,"MC":60},{"p":"c","x":-54,"MC":68},{"p":"c","x":-53.5,"MC":76},{"p":"c","x":-53,"MC":81},{"p":"c","x":-52.5,"MC":84.5},{"p":"c","x":-52,"MC":86.5},{"p":"c","x":-51,"MC":89},{"p":"c","x":-50,"MC":90.6},{"p":"c","x":-49,"MC":91.6},{"p":"c","x":-48,"MC":92.2},{"p":"c","x":-46,"MC":93.0},{"p":"c","x":-44,"MC":93.7},{"p":"c","x":-42,"MC":94.2},{"p":"c","x":-40,"MC":94.7},{"p":"c","x":-35,"MC":95.5},{"p":"c","x":-30,"MC":96.2},{"p":"c","x":-25,"MC":96.9},{"p":"c","x":-20,"MC":97.6},{"p":"c","x":-15,"MC":98.3},{"p":"c","x":-10,"MC":99.0},{"p":"c","x":-5,"MC":99.6},{"p":"c","x":0,"MC":100.2},{"p":"c","x":5,"MC":100.9},{"p":"c","x":10,"MC":101.5},{"p":"c","x":15,"MC":102.0},{"p":"c","x":20,"MC":102.5},{"p":"c","x":25,"MC":103.1},{"p":"c","x":30,"MC":103.6},{"p":"c","x":35,"MC":104.2},{"p":"c","x":40,"MC":104.6},{"p":"c","x":44,"MC":104.5},{"p":"c","x":46,"MC":104.1},{"p":"c","x":48,"MC":103.1},{"p":"c","x":49,"MC":102.2},{"p":"c","x":50,"MC":100.2},{"p":"c","x":51,"MC":98},{"p":"c","x":52,"MC":93},{"p":"c","x":52.5,"MC":89},{"p":"c","x":53,"MC":83},{"p":"c","x":53.5,"MC":75},{"p":"c","x":54,"MC":66},{"p":"c","x":54.5,"MC":56},{"p":"c","x":55,"MC":46},{"p":"c","x":55.5,"MC":36},{"p":"c","x":56,"MC":25},{"p":"c","x":56.5,"MC":19.5},{"p":"c","x":57,"MC":16.5},{"p":"c","x":58,"MC":14.0},{"p":"c","x":59,"MC":12.6},{"p":"c","x":60,"MC":11.8},{"p":"c","x":62,"MC":10.9},{"p":"c","x":65,"MC":10.0},{"p":"c","x":68,"MC":9.3},{"p":"c","x":70,"MC":8.8},{"p":"c","x":72,"MC":8.2},{"p":"c","x":75,"MC":7.3},
{"p":"d","x":-75,"MC":7.3},{"p":"d","x":-72,"MC":7.8},{"p":"d","x":-70,"MC":8.2},{"p":"d","x":-68,"MC":8.7},{"p":"d","x":-66,"MC":9.3},{"p":"d","x":-64,"MC":10.0},{"p":"d","x":-62,"MC":10.8},{"p":"d","x":-61,"MC":11.5},{"p":"d","x":-60,"MC":12.3},{"p":"d","x":-59,"MC":13.8},{"p":"d","x":-58,"MC":16.5},{"p":"d","x":-57.5,"MC":19},{"p":"d","x":-57,"MC":24},{"p":"d","x":-56.5,"MC":30},{"p":"d","x":-56,"MC":37},{"p":"d","x":-55.5,"MC":45},{"p":"d","x":-55,"MC":53},{"p":"d","x":-54.5,"MC":61},{"p":"d","x":-54,"MC":68},{"p":"d","x":-53.5,"MC":74},{"p":"d","x":-53,"MC":78.5},{"p":"d","x":-52.5,"MC":82},{"p":"d","x":-52,"MC":84.5},{"p":"d","x":-51,"MC":87.5},{"p":"d","x":-50,"MC":89.2},{"p":"d","x":-48,"MC":90.6},{"p":"d","x":-46,"MC":91.5},{"p":"d","x":-44,"MC":92.3},{"p":"d","x":-40,"MC":93.2},{"p":"d","x":-36,"MC":93.8},{"p":"d","x":-33,"MC":94.2},{"p":"d","x":-31,"MC":95.0},{"p":"d","x":-28,"MC":95.4},{"p":"d","x":-25,"MC":96.0},{"p":"d","x":-20,"MC":96.7},{"p":"d","x":-15,"MC":97.7},{"p":"d","x":-10,"MC":98.5},{"p":"d","x":-5,"MC":99.3},{"p":"d","x":0,"MC":100.1},{"p":"d","x":5,"MC":101.0},{"p":"d","x":10,"MC":101.8},{"p":"d","x":15,"MC":102.5},{"p":"d","x":20,"MC":103.4},{"p":"d","x":25,"MC":104.0},{"p":"d","x":30,"MC":104.9},{"p":"d","x":35,"MC":105.6},{"p":"d","x":40,"MC":105.4},{"p":"d","x":44,"MC":105.2},{"p":"d","x":47,"MC":105.4},{"p":"d","x":48.5,"MC":105.0},{"p":"d","x":49.5,"MC":104.0},{"p":"d","x":50.5,"MC":101.5},{"p":"d","x":51,"MC":99.3},{"p":"d","x":52,"MC":94},{"p":"d","x":52.6,"MC":89.5},{"p":"d","x":53,"MC":84},{"p":"d","x":53.5,"MC":74},{"p":"d","x":54,"MC":63},{"p":"d","x":54.5,"MC":47},{"p":"d","x":55,"MC":34},{"p":"d","x":55.5,"MC":25.5},{"p":"d","x":56,"MC":20.5},{"p":"d","x":56.5,"MC":17.2},{"p":"d","x":57,"MC":15.2},{"p":"d","x":58,"MC":13.4},{"p":"d","x":60,"MC":11.8},{"p":"d","x":62,"MC":10.9},{"p":"d","x":65,"MC":9.9},{"p":"d","x":68,"MC":9.1},{"p":"d","x":70,"MC":8.6},{"p":"d","x":72,"MC":8.1},{"p":"d","x":75,"MC":7.4},
{"p":"e","x":-75,"MC":7.4},{"p":"e","x":-72,"MC":7.9},{"p":"e","x":-70,"MC":8.3},{"p":"e","x":-68,"MC":8.8},{"p":"e","x":-66,"MC":9.3},{"p":"e","x":-64,"MC":10.0},{"p":"e","x":-62,"MC":10.8},{"p":"e","x":-61,"MC":11.4},{"p":"e","x":-60,"MC":12.2},{"p":"e","x":-59,"MC":13.4},{"p":"e","x":-58,"MC":15.5},{"p":"e","x":-57.5,"MC":17.6},{"p":"e","x":-57,"MC":22},{"p":"e","x":-56.5,"MC":28},{"p":"e","x":-56,"MC":36},{"p":"e","x":-55.5,"MC":43},{"p":"e","x":-55,"MC":49},{"p":"e","x":-54.5,"MC":56},{"p":"e","x":-54,"MC":63},{"p":"e","x":-53.5,"MC":70},{"p":"e","x":-53,"MC":75},{"p":"e","x":-52.5,"MC":78},{"p":"e","x":-52,"MC":80.2},{"p":"e","x":-51,"MC":83.3},{"p":"e","x":-50.5,"MC":84.6},{"p":"e","x":-50,"MC":85.2},{"p":"e","x":-48,"MC":86.5},{"p":"e","x":-46,"MC":87.5},{"p":"e","x":-44,"MC":88.4},{"p":"e","x":-42,"MC":89.1},{"p":"e","x":-40,"MC":89.7},{"p":"e","x":-38,"MC":90.1},{"p":"e","x":-36,"MC":90.5},{"p":"e","x":-34,"MC":91.0},{"p":"e","x":-32,"MC":91.8},{"p":"e","x":-30,"MC":92.5},{"p":"e","x":-28,"MC":92.9},{"p":"e","x":-26,"MC":93.0},{"p":"e","x":-24,"MC":93.7},{"p":"e","x":-22,"MC":94.0},{"p":"e","x":-20,"MC":94.5},{"p":"e","x":-18,"MC":95.3},{"p":"e","x":-15,"MC":96.2},{"p":"e","x":-12,"MC":97.3},{"p":"e","x":-10,"MC":97.9},{"p":"e","x":-5,"MC":99.0},{"p":"e","x":0,"MC":100.1},{"p":"e","x":5,"MC":101.6},{"p":"e","x":10,"MC":102.9},{"p":"e","x":15,"MC":104.0},{"p":"e","x":20,"MC":105.2},{"p":"e","x":25,"MC":106.3},{"p":"e","x":30,"MC":107.8},{"p":"e","x":35,"MC":109.0},{"p":"e","x":40,"MC":109.6},{"p":"e","x":43,"MC":109.4},{"p":"e","x":45,"MC":110.0},{"p":"e","x":47,"MC":110.6},{"p":"e","x":48.5,"MC":110.3},{"p":"e","x":49.5,"MC":109.6},{"p":"e","x":50.5,"MC":107.8},{"p":"e","x":51,"MC":105},{"p":"e","x":51.5,"MC":100},{"p":"e","x":52,"MC":95},{"p":"e","x":52.5,"MC":89},{"p":"e","x":53,"MC":83},{"p":"e","x":53.5,"MC":76},{"p":"e","x":54,"MC":69},{"p":"e","x":54.5,"MC":58},{"p":"e","x":55,"MC":42},{"p":"e","x":55.5,"MC":29},{"p":"e","x":56,"MC":21.5},{"p":"e","x":56.5,"MC":18.5},{"p":"e","x":57,"MC":17.0},{"p":"e","x":58,"MC":15.0},{"p":"e","x":60,"MC":13.0},{"p":"e","x":62,"MC":11.8},{"p":"e","x":65,"MC":10.6},{"p":"e","x":68,"MC":9.8},{"p":"e","x":70,"MC":9.3},{"p":"e","x":72,"MC":8.8},{"p":"e","x":75,"MC":8.0},
{"p":"f","x":-75,"MC":7.6},{"p":"f","x":-72,"MC":8.1},{"p":"f","x":-70,"MC":8.6},{"p":"f","x":-66,"MC":9.6},{"p":"f","x":-64,"MC":10.2},{"p":"f","x":-62,"MC":11.1},{"p":"f","x":-60,"MC":12.6},{"p":"f","x":-59,"MC":13.8},{"p":"f","x":-58,"MC":15.8},{"p":"f","x":-57.5,"MC":17.5},{"p":"f","x":-57,"MC":19.5},{"p":"f","x":-56.5,"MC":25},{"p":"f","x":-56,"MC":32},{"p":"f","x":-55.5,"MC":39},{"p":"f","x":-55,"MC":46},{"p":"f","x":-54.5,"MC":52},{"p":"f","x":-54,"MC":57},{"p":"f","x":-53.5,"MC":63},{"p":"f","x":-53,"MC":67},{"p":"f","x":-52.5,"MC":70},{"p":"f","x":-52,"MC":72},{"p":"f","x":-51,"MC":73.5},{"p":"f","x":-50,"MC":74.5},{"p":"f","x":-48,"MC":76},{"p":"f","x":-46,"MC":77.3},{"p":"f","x":-44,"MC":79},{"p":"f","x":-42,"MC":80.3},{"p":"f","x":-40,"MC":81.6},{"p":"f","x":-38,"MC":82.5},{"p":"f","x":-35,"MC":83.6},{"p":"f","x":-32,"MC":84.6},{"p":"f","x":-30,"MC":85.4},{"p":"f","x":-27,"MC":86.5},{"p":"f","x":-25,"MC":86.8},{"p":"f","x":-23,"MC":87.4},{"p":"f","x":-21,"MC":88.6},{"p":"f","x":-18,"MC":89.6},{"p":"f","x":-15,"MC":91.2},{"p":"f","x":-12,"MC":92.8},{"p":"f","x":-10,"MC":94},{"p":"f","x":-8,"MC":95},{"p":"f","x":-6,"MC":96},{"p":"f","x":-4,"MC":97.4},{"p":"f","x":-2,"MC":98.8},{"p":"f","x":0,"MC":100.2},{"p":"f","x":3,"MC":101.5},{"p":"f","x":6,"MC":102.6},{"p":"f","x":9,"MC":104},{"p":"f","x":12,"MC":105.2},{"p":"f","x":15,"MC":106.2},{"p":"f","x":18,"MC":107.6},{"p":"f","x":21,"MC":109.2},{"p":"f","x":24,"MC":110.8},{"p":"f","x":26,"MC":111.8},{"p":"f","x":28,"MC":112.8},{"p":"f","x":30,"MC":114},{"p":"f","x":32,"MC":114.5},{"p":"f","x":34,"MC":115.2},{"p":"f","x":36,"MC":116.6},{"p":"f","x":38,"MC":117.8},{"p":"f","x":40,"MC":119.3},{"p":"f","x":42,"MC":119.8},{"p":"f","x":43.5,"MC":119},{"p":"f","x":44.5,"MC":120},{"p":"f","x":46,"MC":121.5},{"p":"f","x":48,"MC":122},{"p":"f","x":49.5,"MC":121.5},{"p":"f","x":50.5,"MC":118},{"p":"f","x":51,"MC":116},{"p":"f","x":52,"MC":110},{"p":"f","x":52.5,"MC":104},{"p":"f","x":53,"MC":96},{"p":"f","x":53.5,"MC":88},{"p":"f","x":54,"MC":80},{"p":"f","x":54.5,"MC":72},{"p":"f","x":55,"MC":64},{"p":"f","x":55.5,"MC":56},{"p":"f","x":56,"MC":47},{"p":"f","x":56.5,"MC":38},{"p":"f","x":57,"MC":30},{"p":"f","x":57.5,"MC":24},{"p":"f","x":58,"MC":20.5},{"p":"f","x":59,"MC":17},{"p":"f","x":60,"MC":15},{"p":"f","x":62,"MC":13.2},{"p":"f","x":65,"MC":11.8},{"p":"f","x":68,"MC":10.8},{"p":"f","x":70,"MC":10.1},{"p":"f","x":72,"MC":9.5},{"p":"f","x":75,"MC":8.6}
]
},
"vconcat": [
{"hconcat": [
{"width": 435, "height": 251, "layer": [
{"layer": [
{"data": {"name": "mc"}, "transform": [{"filter": "datum.p == 'a'"}, {"fold": ["MC"], "as": ["series", "dose"]}], "mark": {"type": "line", "strokeWidth": 2, "clip": true},
 "encoding": {
  "x": {"field": "x", "type": "quantitative", "scale": {"domain": [-75, 75], "nice": false, "zero": false}, "axis": {"values": [-75, -50, -25, 0, 25, 50, 75], "labelExpr": "replace(datum.label, '−', '-')", "title": "Distance from central axis (mm)", "titleY": 23, "titleBaseline": "middle"}},
  "y": {"field": "dose", "type": "quantitative", "scale": {"domain": [0, 120], "nice": false}, "axis": {"values": [0, 20, 40, 60, 80, 100, 120], "offset": -217.5, "title": "Relative Dose (%)", "titleX": 17, "titleY": 137.5, "titleAngle": -90, "titleAlign": "center", "titleBaseline": "middle"}},
  "color": {"field": "series", "type": "nominal", "scale": {"domain": ["MC", "CCC", "Clarkson", "FFT"], "range": ["#ED7D31", "#2E75B6", "#F01E23", "#1FAA4B"]}, "legend": {"title": null, "orient": "none", "legendX": -3.9, "legendY": -8.7}}
 }},
{"data": {"name": "pts"}, "transform": [{"filter": "datum.p == 'a'"}, {"fold": ["CCC", "Clarkson", "FFT"], "as": ["series", "dose"]}], "mark": {"type": "point", "filled": true, "opacity": 1, "strokeWidth": 0},
 "encoding": {
  "x": {"field": "x", "type": "quantitative"},
  "y": {"field": "dose", "type": "quantitative"},
  "color": {"field": "series", "type": "nominal"},
  "shape": {"field": "series", "type": "nominal", "scale": {"domain": ["MC", "CCC", "Clarkson", "FFT"], "range": ["M-3.2,-0.45L3.2,-0.45L3.2,0.45L-3.2,0.45Z", "circle", "square", "triangle-up"]}, "legend": {"title": null, "orient": "none", "legendX": -3.9, "legendY": -8.7}},
  "size": {"field": "series", "type": "nominal", "scale": {"domain": ["MC", "CCC", "Clarkson", "FFT"], "range": [20, 22, 16, 25]}, "legend": null}
 }},
{"data": {"values": [{}]}, "mark": {"type": "text", "align": "right", "baseline": "middle", "font": "Liberation Serif", "fontWeight": "bold", "fontSize": 12.6, "color": "#F01E23"}, "encoding": {"x": {"datum": 69.3}, "y": {"datum": 120.8}, "text": {"value": "Wedge angel = 5º"}}},
{"data": {"values": [{}]}, "mark": {"type": "rect", "color": "black"}, "encoding": {"x": {"datum": -81}, "x2": {"datum": -73.2}, "y": {"datum": -7.5}, "y2": {"datum": -18.6}}},
{"data": {"values": [{}]}, "mark": {"type": "text", "align": "center", "baseline": "alphabetic", "font": "Liberation Sans", "fontSize": 22, "color": "white"}, "encoding": {"x": {"datum": -77.1}, "y": {"datum": -17.4}, "text": {"value": "a"}}},
{"data": {"values": [{}]}, "mark": {"type": "rule", "color": "#555555", "strokeWidth": 1}, "encoding": {"x": {"datum": -81}, "x2": {"datum": 260}, "y": {"datum": 127}}},
{"data": {"values": [{}]}, "mark": {"type": "rule", "color": "#555555", "strokeWidth": 1}, "encoding": {"x": {"datum": -81}, "y": {"datum": 127}, "y2": {"datum": -21.03}}}
]},
{"data": {"values": [{}]}, "mark": {"type": "point", "opacity": 0}, "encoding": {"y": {"datum": 0, "type": "quantitative", "scale": {"domain": [0, 1], "nice": false}, "axis": {"orient": "right", "values": [0, 1], "format": ".0f", "title": "Gamma index", "titleX": 20, "titleY": 126, "titleAngle": -90, "titleAlign": "center", "titleBaseline": "middle"}}}}
], "resolve": {"scale": {"y": "independent"}}},

{"width": 435, "height": 251, "layer": [
{"layer": [
{"data": {"name": "mc"}, "transform": [{"filter": "datum.p == 'b'"}, {"fold": ["MC"], "as": ["series", "dose"]}], "mark": {"type": "line", "strokeWidth": 2, "clip": true},
 "encoding": {
  "x": {"field": "x", "type": "quantitative", "scale": {"domain": [-75, 75], "nice": false, "zero": false}, "axis": {"values": [-75, -50, -25, 0, 25, 50, 75], "labelExpr": "replace(datum.label, '−', '-')", "title": "Distance from central axis (mm)", "titleY": 23, "titleBaseline": "middle"}},
  "y": {"field": "dose", "type": "quantitative", "scale": {"domain": [0, 120], "nice": false}, "axis": {"values": [0, 20, 40, 60, 80, 100, 120], "offset": -217.5, "title": "Relative Dose (%)", "titleX": 17, "titleY": 137.5, "titleAngle": -90, "titleAlign": "center", "titleBaseline": "middle"}},
  "color": {"field": "series", "type": "nominal", "scale": {"domain": ["MC", "CCC", "Clarkson", "FFT"], "range": ["#ED7D31", "#2E75B6", "#F01E23", "#1FAA4B"]}, "legend": {"title": null, "orient": "none", "legendX": -4.5, "legendY": -6}}
 }},
{"data": {"name": "pts"}, "transform": [{"filter": "datum.p == 'b'"}, {"fold": ["CCC", "Clarkson", "FFT"], "as": ["series", "dose"]}], "mark": {"type": "point", "filled": true, "opacity": 1, "strokeWidth": 0},
 "encoding": {
  "x": {"field": "x", "type": "quantitative"},
  "y": {"field": "dose", "type": "quantitative"},
  "color": {"field": "series", "type": "nominal"},
  "shape": {"field": "series", "type": "nominal", "scale": {"domain": ["MC", "CCC", "Clarkson", "FFT"], "range": ["M-3.2,-0.45L3.2,-0.45L3.2,0.45L-3.2,0.45Z", "circle", "square", "triangle-up"]}, "legend": {"title": null, "orient": "none", "legendX": -4.5, "legendY": -6}},
  "size": {"field": "series", "type": "nominal", "scale": {"domain": ["MC", "CCC", "Clarkson", "FFT"], "range": [20, 22, 16, 25]}, "legend": null}
 }},
{"data": {"values": [{}]}, "mark": {"type": "text", "align": "right", "baseline": "middle", "font": "Liberation Serif", "fontWeight": "bold", "fontSize": 12.6, "color": "#F01E23"}, "encoding": {"x": {"datum": 71.2}, "y": {"datum": 119.5}, "text": {"value": "Wedge angel = 10º"}}},
{"data": {"values": [{}]}, "mark": {"type": "rect", "color": "black"}, "encoding": {"x": {"datum": -76.1}, "x2": {"datum": -68.4}, "y": {"datum": -9.1}, "y2": {"datum": -19.5}}},
{"data": {"values": [{}]}, "mark": {"type": "text", "align": "center", "baseline": "alphabetic", "font": "Liberation Sans", "fontSize": 22, "color": "white"}, "encoding": {"x": {"datum": -72.25}, "y": {"datum": -18.3}, "text": {"value": "b"}}}
]},
{"data": {"values": [{}]}, "mark": {"type": "point", "opacity": 0}, "encoding": {"y": {"datum": 0, "type": "quantitative", "scale": {"domain": [0, 1], "nice": false}, "axis": {"orient": "right", "values": [0, 1], "format": ".0f", "title": "Gamma index", "titleX": 20, "titleY": 126, "titleAngle": -90, "titleAlign": "center", "titleBaseline": "middle"}}}}
], "resolve": {"scale": {"y": "independent"}}}
], "spacing": 47, "bounds": "flush", "resolve": {"scale": {"color": "independent", "shape": "independent", "size": "independent"}}},

{"hconcat": [
{"width": 435, "height": 251, "layer": [
{"layer": [
{"data": {"name": "mc"}, "transform": [{"filter": "datum.p == 'c'"}, {"fold": ["MC"], "as": ["series", "dose"]}], "mark": {"type": "line", "strokeWidth": 2, "clip": true},
 "encoding": {
  "x": {"field": "x", "type": "quantitative", "scale": {"domain": [-75, 75], "nice": false, "zero": false}, "axis": {"values": [-75, -50, -25, 0, 25, 50, 75], "labelExpr": "replace(datum.label, '−', '-')", "title": "Distance from central axis (mm)", "titleY": 23, "titleBaseline": "middle"}},
  "y": {"field": "dose", "type": "quantitative", "scale": {"domain": [0, 120], "nice": false}, "axis": {"values": [0, 20, 40, 60, 80, 100, 120], "offset": -217.5, "title": "Relative Dose (%)", "titleX": 17, "titleY": 137.5, "titleAngle": -90, "titleAlign": "center", "titleBaseline": "middle"}},
  "color": {"field": "series", "type": "nominal", "scale": {"domain": ["MC", "CCC", "Clarkson", "FFT"], "range": ["#ED7D31", "#2E75B6", "#F01E23", "#1FAA4B"]}, "legend": {"title": null, "orient": "none", "legendX": -3.1, "legendY": -7.4}}
 }},
{"data": {"name": "pts"}, "transform": [{"filter": "datum.p == 'c'"}, {"fold": ["CCC", "Clarkson", "FFT"], "as": ["series", "dose"]}], "mark": {"type": "point", "filled": true, "opacity": 1, "strokeWidth": 0},
 "encoding": {
  "x": {"field": "x", "type": "quantitative"},
  "y": {"field": "dose", "type": "quantitative"},
  "color": {"field": "series", "type": "nominal"},
  "shape": {"field": "series", "type": "nominal", "scale": {"domain": ["MC", "CCC", "Clarkson", "FFT"], "range": ["M-3.2,-0.45L3.2,-0.45L3.2,0.45L-3.2,0.45Z", "circle", "square", "triangle-up"]}, "legend": {"title": null, "orient": "none", "legendX": -3.1, "legendY": -7.4}},
  "size": {"field": "series", "type": "nominal", "scale": {"domain": ["MC", "CCC", "Clarkson", "FFT"], "range": [20, 22, 16, 25]}, "legend": null}
 }},
{"data": {"values": [{}]}, "mark": {"type": "text", "align": "right", "baseline": "middle", "font": "Liberation Serif", "fontWeight": "bold", "fontSize": 12.6, "color": "#F01E23"}, "encoding": {"x": {"datum": 69.9}, "y": {"datum": 118}, "text": {"value": "Wedge angel = 15º"}}},
{"data": {"values": [{}]}, "mark": {"type": "rect", "color": "black"}, "encoding": {"x": {"datum": -81}, "x2": {"datum": -73.2}, "y": {"datum": -11.5}, "y2": {"datum": -21.8}}},
{"data": {"values": [{}]}, "mark": {"type": "text", "align": "center", "baseline": "alphabetic", "font": "Liberation Sans", "fontSize": 22, "color": "white"}, "encoding": {"x": {"datum": -77.1}, "y": {"datum": -20.6}, "text": {"value": "c"}}},
{"data": {"values": [{}]}, "mark": {"type": "rule", "color": "#555555", "strokeWidth": 1}, "encoding": {"x": {"datum": -81}, "y": {"datum": 131.47}, "y2": {"datum": -23.42}}}
]},
{"data": {"values": [{}]}, "mark": {"type": "point", "opacity": 0}, "encoding": {"y": {"datum": 0, "type": "quantitative", "scale": {"domain": [0, 1], "nice": false}, "axis": {"orient": "right", "values": [0, 1], "format": ".0f", "title": "Gamma index", "titleX": 20, "titleY": 126, "titleAngle": -90, "titleAlign": "center", "titleBaseline": "middle"}}}}
], "resolve": {"scale": {"y": "independent"}}},

{"width": 435, "height": 251, "layer": [
{"layer": [
{"data": {"name": "mc"}, "transform": [{"filter": "datum.p == 'd'"}, {"fold": ["MC"], "as": ["series", "dose"]}], "mark": {"type": "line", "strokeWidth": 2, "clip": true},
 "encoding": {
  "x": {"field": "x", "type": "quantitative", "scale": {"domain": [-75, 75], "nice": false, "zero": false}, "axis": {"values": [-75, -50, -25, 0, 25, 50, 75], "labelExpr": "replace(datum.label, '−', '-')", "title": "Distance from central axis (mm)", "titleY": 23, "titleBaseline": "middle"}},
  "y": {"field": "dose", "type": "quantitative", "scale": {"domain": [0, 120], "nice": false}, "axis": {"values": [0, 20, 40, 60, 80, 100, 120], "offset": -217.5, "title": "Relative Dose (%)", "titleX": 17, "titleY": 137.5, "titleAngle": -90, "titleAlign": "center", "titleBaseline": "middle"}},
  "color": {"field": "series", "type": "nominal", "scale": {"domain": ["MC", "CCC", "Clarkson", "FFT"], "range": ["#ED7D31", "#2E75B6", "#F01E23", "#1FAA4B"]}, "legend": {"title": null, "orient": "none", "legendX": -4.9, "legendY": -7.4}}
 }},
{"data": {"name": "pts"}, "transform": [{"filter": "datum.p == 'd'"}, {"fold": ["CCC", "Clarkson", "FFT"], "as": ["series", "dose"]}], "mark": {"type": "point", "filled": true, "opacity": 1, "strokeWidth": 0},
 "encoding": {
  "x": {"field": "x", "type": "quantitative"},
  "y": {"field": "dose", "type": "quantitative"},
  "color": {"field": "series", "type": "nominal"},
  "shape": {"field": "series", "type": "nominal", "scale": {"domain": ["MC", "CCC", "Clarkson", "FFT"], "range": ["M-3.2,-0.45L3.2,-0.45L3.2,0.45L-3.2,0.45Z", "circle", "square", "triangle-up"]}, "legend": {"title": null, "orient": "none", "legendX": -4.9, "legendY": -7.4}},
  "size": {"field": "series", "type": "nominal", "scale": {"domain": ["MC", "CCC", "Clarkson", "FFT"], "range": [20, 22, 16, 25]}, "legend": null}
 }},
{"data": {"values": [{}]}, "mark": {"type": "text", "align": "right", "baseline": "middle", "font": "Liberation Serif", "fontWeight": "bold", "fontSize": 12.6, "color": "#F01E23"}, "encoding": {"x": {"datum": 69.3}, "y": {"datum": 118}, "text": {"value": "Wedge angel = 20º"}}},
{"data": {"values": [{}]}, "mark": {"type": "rect", "color": "black"}, "encoding": {"x": {"datum": -77.3}, "x2": {"datum": -69.7}, "y": {"datum": -11.1}, "y2": {"datum": -21.7}}},
{"data": {"values": [{}]}, "mark": {"type": "text", "align": "center", "baseline": "alphabetic", "font": "Liberation Sans", "fontSize": 22, "color": "white"}, "encoding": {"x": {"datum": -73.5}, "y": {"datum": -20.5}, "text": {"value": "d"}}}
]},
{"data": {"values": [{}]}, "mark": {"type": "point", "opacity": 0}, "encoding": {"y": {"datum": 0, "type": "quantitative", "scale": {"domain": [0, 1], "nice": false}, "axis": {"orient": "right", "values": [0, 1], "format": ".0f", "title": "Gamma index", "titleX": 20, "titleY": 126, "titleAngle": -90, "titleAlign": "center", "titleBaseline": "middle"}}}}
], "resolve": {"scale": {"y": "independent"}}}
], "spacing": 47, "bounds": "flush", "resolve": {"scale": {"color": "independent", "shape": "independent", "size": "independent"}}},

{"hconcat": [
{"width": 435, "height": 251, "layer": [
{"layer": [
{"data": {"name": "mc"}, "transform": [{"filter": "datum.p == 'e'"}, {"fold": ["MC"], "as": ["series", "dose"]}], "mark": {"type": "line", "strokeWidth": 2, "clip": true},
 "encoding": {
  "x": {"field": "x", "type": "quantitative", "scale": {"domain": [-75, 75], "nice": false, "zero": false}, "axis": {"values": [-75, -50, -25, 0, 25, 50, 75], "labelExpr": "replace(datum.label, '−', '-')", "title": "Distance from central axis (mm)", "titleY": 23, "titleBaseline": "middle"}},
  "y": {"field": "dose", "type": "quantitative", "scale": {"domain": [0, 120], "nice": false}, "axis": {"values": [0, 20, 40, 60, 80, 100, 120], "offset": -217.5, "title": "Relative Dose (%)", "titleX": 17, "titleY": 137.5, "titleAngle": -90, "titleAlign": "center", "titleBaseline": "middle"}},
  "color": {"field": "series", "type": "nominal", "scale": {"domain": ["MC", "CCC", "Clarkson", "FFT"], "range": ["#ED7D31", "#2E75B6", "#F01E23", "#1FAA4B"]}, "legend": {"title": null, "orient": "none", "legendX": -4.1, "legendY": -11}}
 }},
{"data": {"name": "pts"}, "transform": [{"filter": "datum.p == 'e'"}, {"fold": ["CCC", "Clarkson", "FFT"], "as": ["series", "dose"]}], "mark": {"type": "point", "filled": true, "opacity": 1, "strokeWidth": 0},
 "encoding": {
  "x": {"field": "x", "type": "quantitative"},
  "y": {"field": "dose", "type": "quantitative"},
  "color": {"field": "series", "type": "nominal"},
  "shape": {"field": "series", "type": "nominal", "scale": {"domain": ["MC", "CCC", "Clarkson", "FFT"], "range": ["M-3.2,-0.45L3.2,-0.45L3.2,0.45L-3.2,0.45Z", "circle", "square", "triangle-up"]}, "legend": {"title": null, "orient": "none", "legendX": -4.1, "legendY": -11}},
  "size": {"field": "series", "type": "nominal", "scale": {"domain": ["MC", "CCC", "Clarkson", "FFT"], "range": [20, 22, 16, 25]}, "legend": null}
 }},
{"data": {"values": [{}]}, "mark": {"type": "text", "align": "right", "baseline": "middle", "font": "Liberation Serif", "fontWeight": "bold", "fontSize": 12.6, "color": "#F01E23"}, "encoding": {"x": {"datum": 71.3}, "y": {"datum": 127.4}, "text": {"value": "Wedge angel = 30º"}}},
{"data": {"values": [{}]}, "mark": {"type": "rect", "color": "black"}, "encoding": {"x": {"datum": -81}, "x2": {"datum": -73.1}, "y": {"datum": -8.9}, "y2": {"datum": -19.4}}},
{"data": {"values": [{}]}, "mark": {"type": "text", "align": "center", "baseline": "alphabetic", "font": "Liberation Sans", "fontSize": 22, "color": "white"}, "encoding": {"x": {"datum": -77.05}, "y": {"datum": -18.2}, "text": {"value": "e"}}},
{"data": {"values": [{}]}, "mark": {"type": "rule", "color": "#555555", "strokeWidth": 1}, "encoding": {"x": {"datum": -81}, "y": {"datum": 136.73}, "y2": {"datum": -30}}}
]},
{"data": {"values": [{}]}, "mark": {"type": "point", "opacity": 0}, "encoding": {"y": {"datum": 0, "type": "quantitative", "scale": {"domain": [0, 1], "nice": false}, "axis": {"orient": "right", "values": [0, 1], "format": ".0f", "title": "Gamma index", "titleX": 20, "titleY": 126, "titleAngle": -90, "titleAlign": "center", "titleBaseline": "middle"}}}}
], "resolve": {"scale": {"y": "independent"}}},

{"width": 435, "height": 251, "layer": [
{"layer": [
{"data": {"name": "mc"}, "transform": [{"filter": "datum.p == 'f'"}, {"fold": ["MC"], "as": ["series", "dose"]}], "mark": {"type": "line", "strokeWidth": 2, "clip": true},
 "encoding": {
  "x": {"field": "x", "type": "quantitative", "scale": {"domain": [-75, 75], "nice": false, "zero": false}, "axis": {"values": [-75, -50, -25, 0, 25, 50, 75], "labelExpr": "replace(datum.label, '−', '-')", "title": "Distance from central axis (mm)", "titleY": 23, "titleBaseline": "middle"}},
  "y": {"field": "dose", "type": "quantitative", "scale": {"domain": [0, 120], "nice": false}, "axis": {"values": [0, 20, 40, 60, 80, 100, 120], "offset": -217.5, "title": "Relative Dose (%)", "titleX": 17, "titleY": 137.5, "titleAngle": -90, "titleAlign": "center", "titleBaseline": "middle"}},
  "color": {"field": "series", "type": "nominal", "scale": {"domain": ["MC", "CCC", "Clarkson", "FFT"], "range": ["#ED7D31", "#2E75B6", "#F01E23", "#1FAA4B"]}, "legend": {"title": null, "orient": "none", "legendX": -9.4, "legendY": -30.3}}
 }},
{"data": {"name": "pts"}, "transform": [{"filter": "datum.p == 'f'"}, {"fold": ["CCC", "Clarkson", "FFT"], "as": ["series", "dose"]}], "mark": {"type": "point", "filled": true, "opacity": 1, "strokeWidth": 0},
 "encoding": {
  "x": {"field": "x", "type": "quantitative"},
  "y": {"field": "dose", "type": "quantitative"},
  "color": {"field": "series", "type": "nominal"},
  "shape": {"field": "series", "type": "nominal", "scale": {"domain": ["MC", "CCC", "Clarkson", "FFT"], "range": ["M-3.2,-0.45L3.2,-0.45L3.2,0.45L-3.2,0.45Z", "circle", "square", "triangle-up"]}, "legend": {"title": null, "orient": "none", "legendX": -9.4, "legendY": -30.3}},
  "size": {"field": "series", "type": "nominal", "scale": {"domain": ["MC", "CCC", "Clarkson", "FFT"], "range": [20, 22, 16, 25]}, "legend": null}
 }},
{"data": {"values": [{}]}, "mark": {"type": "text", "align": "right", "baseline": "middle", "font": "Liberation Serif", "fontWeight": "bold", "fontSize": 12.6, "color": "#F01E23"}, "encoding": {"x": {"datum": 72.3}, "y": {"datum": 129.2}, "text": {"value": "Wedge angel = 45º"}}},
{"data": {"values": [{}]}, "mark": {"type": "rect", "color": "black"}, "encoding": {"x": {"datum": -80.2}, "x2": {"datum": -72.2}, "y": {"datum": -6.8}, "y2": {"datum": -17.3}}},
{"data": {"values": [{}]}, "mark": {"type": "text", "align": "center", "baseline": "alphabetic", "font": "Liberation Sans", "fontSize": 22, "color": "white"}, "encoding": {"x": {"datum": -76.2}, "y": {"datum": -16.1}, "text": {"value": "f"}}}
]},
{"data": {"values": [{}]}, "mark": {"type": "point", "opacity": 0}, "encoding": {"y": {"datum": 0, "type": "quantitative", "scale": {"domain": [0, 1], "nice": false}, "axis": {"orient": "right", "values": [0, 1], "format": ".0f", "title": "Gamma index", "titleX": 20, "titleY": 126, "titleAngle": -90, "titleAlign": "center", "titleBaseline": "middle"}}}}
], "resolve": {"scale": {"y": "independent"}}}
], "spacing": 47, "bounds": "flush", "resolve": {"scale": {"color": "independent", "shape": "independent", "size": "independent"}}}
],
"spacing": 0,
"bounds": "full",
"resolve": {"scale": {"color": "independent", "shape": "independent", "size": "independent"}},
"config": {
 "view": {"stroke": null},
 "font": "Liberation Serif",
 "axis": {"grid": false, "ticks": false, "tickSize": 0, "domainColor": "black", "domainWidth": 2, "labelFont": "Liberation Serif", "labelFontWeight": "bold", "labelFontSize": 8, "labelColor": "black", "labelPadding": 5, "labelFlush": false, "labelOverlap": false, "titleFont": "Liberation Serif", "titleFontWeight": "bold", "titleFontSize": 11, "titleColor": "black"},
 "legend": {"padding": 0, "labelFont": "Liberation Serif", "labelFontWeight": "bold", "labelFontSize": 10, "labelColor": "black", "symbolSize": 20, "labelOffset": 5.8, "rowPadding": 5, "symbolStrokeWidth": 0}
}
}
